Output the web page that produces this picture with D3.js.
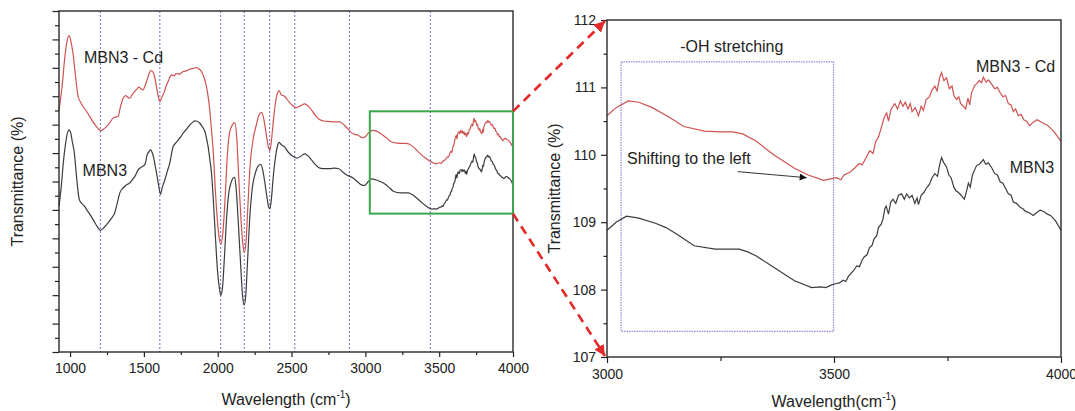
<!DOCTYPE html>
<html>
<head>
<meta charset="utf-8">
<script src="https://cdn.jsdelivr.net/npm/d3@7"></script>
<style>
  body { margin: 0; background: #fff; }
  svg { display: block; font-family: "Liberation Sans", Arial, sans-serif; }
</style>
</head>
<body>
<svg width="1075" height="411"></svg>
<script>
// FTIR spectra: [wavenumber, transmittance]
const cdSpectrum = [
  [925,111.5],[945,112.3],[965,113.4],[980,113.95],[993,114.13],[1005,113.95],[1020,113.5],[1035,112.8],
  [1054,112.0],[1070,111.8],[1088,111.64],[1110,111.48],[1133,111.29],[1155,111.1],[1179,110.93],[1195,110.83],
  [1208,110.79],[1225,110.84],[1247,110.93],[1270,111.08],[1291,111.23],[1310,111.27],[1325,111.29],[1340,111.6],
  [1359,111.93],[1377,112.02],[1390,111.97],[1404,111.93],[1420,112.05],[1438,112.17],[1452,112.25],[1467,112.32],
  [1480,112.26],[1495,112.22],[1508,112.38],[1518,112.52],[1532,112.75],[1547,112.9],[1562,112.85],[1575,112.62],
  [1585,112.34],[1598,111.98],[1608,111.81],[1620,111.95],[1635,112.11],[1650,112.35],[1664,112.52],[1687,112.75],
  [1705,112.72],[1720,112.8],[1740,112.78],[1766,112.87],[1790,112.9],[1811,112.95],[1835,112.98],[1856,113.01],
  [1875,112.95],[1890,112.87],[1908,112.65],[1924,112.34],[1936,111.95],[1946,111.52],[1958,110.8],[1969,110.11],
  [1985,108.6],[2000,107.5],[2012,106.95],[2022,106.8],[2035,107.2],[2050,108.4],[2065,109.9],[2080,110.7],
  [2100,111.0],[2116,111.07],[2128,110.6],[2140,109.4],[2155,107.9],[2170,106.8],[2180,106.5],[2192,106.9],
  [2205,108.2],[2220,109.6],[2240,110.5],[2262,111.0],[2280,111.35],[2297,111.43],[2310,111.25],[2325,110.8],
  [2338,110.35],[2353,110.09],[2365,110.5],[2380,111.3],[2395,111.9],[2408,112.15],[2416,112.2],[2430,112.05],
  [2455,111.99],[2480,111.82],[2511,111.66],[2534,111.6],[2560,111.66],[2590,111.73],[2612,111.66],[2635,111.52],
  [2660,111.34],[2692,111.17],[2725,111.12],[2760,111.11],[2795,111.1],[2827,111.1],[2860,110.97],[2882,110.85],
  [2905,110.72],[2930,110.66],[2951,110.63],[2970,110.56],[2986,110.54],
  [3000,110.58],[3020,110.7],[3047,110.8],[3070,110.78],[3100,110.7],[3139,110.55],[3169,110.42],[3215,110.35],
  [3250,110.34],[3276,110.34],[3299,110.31],[3329,110.2],[3367,110.0],[3413,109.8],[3443,109.7],[3477,109.62],
  [3505,109.66],[3515,109.63],[3522,109.7],[3535,109.74],[3545,109.8],[3556,109.87],[3562,109.85],[3570,109.95],
  [3579,110.06],[3586,110.02],[3592,110.2],[3598,110.26],[3604,110.4],[3611,110.56],[3616,110.62],[3620,110.5],
  [3626,110.68],[3634,110.76],[3640,110.68],[3646,110.8],[3652,110.72],[3657,110.78],[3663,110.68],[3668,110.76],
  [3672,110.64],[3679,110.7],[3686,110.58],[3692,110.72],[3697,110.66],[3703,110.82],[3710,110.86],[3716,110.96],
  [3722,111.02],[3727,110.95],[3733,111.15],[3737,111.22],[3742,111.1],[3748,111.14],[3754,110.98],[3760,111.02],
  [3764,110.88],[3770,110.82],[3775,110.86],[3779,110.76],[3785,110.72],[3790,110.68],[3795,110.84],[3799,110.74],
  [3803,110.92],[3809,111.02],[3815,111.06],[3820,111.1],[3825,111.07],[3829,111.15],[3835,111.08],[3840,111.11],
  [3848,111.04],[3854,110.98],[3860,111.0],[3866,110.92],[3872,110.86],[3878,110.88],[3884,110.76],[3890,110.74],
  [3895,110.64],[3900,110.68],[3906,110.58],[3912,110.6],[3918,110.52],[3924,110.5],[3931,110.43],[3938,110.48],
  [3947,110.52],[3958,110.48],[3970,110.44],[3985,110.34],[4000,110.2]
];

const mbn3Spectrum = [
  [925,108.14],[940,108.8],[955,109.7],[970,110.35],[982,110.7],[993,110.82],[1005,110.7],[1015,110.4],
  [1028,110.04],[1045,109.1],[1062,108.37],[1080,108.22],[1096,108.14],[1120,107.95],[1142,107.78],[1165,107.58],
  [1185,107.4],[1206,107.28],[1230,107.38],[1257,107.54],[1280,107.7],[1302,107.89],[1320,108.25],[1337,108.6],
  [1360,108.78],[1382,108.88],[1405,108.95],[1420,109.05],[1438,109.17],[1461,109.41],[1484,109.51],[1507,109.6],
  [1522,109.94],[1535,110.05],[1545,110.11],[1556,110.02],[1567,109.82],[1580,109.45],[1590,109.17],[1600,108.85],
  [1612,108.55],[1625,108.8],[1642,109.06],[1658,109.35],[1675,109.64],[1698,110.23],[1715,110.35],[1732,110.46],
  [1750,110.58],[1766,110.7],[1790,110.85],[1811,110.99],[1830,111.08],[1845,111.13],[1860,111.12],[1879,111.05],
  [1895,110.93],[1913,110.76],[1925,110.5],[1935,110.23],[1946,109.8],[1958,109.29],[1972,108.2],[1985,107.0],
  [1998,105.9],[2010,105.3],[2021,105.0],[2033,105.3],[2045,106.3],[2060,107.7],[2075,108.6],[2090,108.95],
  [2104,109.12],[2115,109.15],[2127,108.6],[2140,107.5],[2155,106.1],[2168,105.0],[2179,104.65],[2190,105.0],
  [2203,106.3],[2218,107.8],[2235,108.8],[2255,109.3],[2275,109.55],[2292,109.6],[2305,109.4],[2318,109.0],
  [2332,108.5],[2345,108.1],[2353,108.04],[2362,108.3],[2375,109.1],[2390,109.8],[2405,110.25],[2416,110.38],
  [2430,110.3],[2455,110.2],[2480,110.02],[2511,109.88],[2538,109.82],[2565,109.9],[2590,109.97],[2612,109.9],
  [2635,109.76],[2660,109.6],[2692,109.47],[2725,109.45],[2760,109.45],[2790,109.47],[2820,109.45],[2850,109.32],
  [2873,109.23],[2895,109.18],[2917,109.12],[2945,109.0],[2974,108.88],[2990,108.86],
  [3000,108.88],[3020,109.0],[3043,109.09],[3070,109.06],[3108,108.98],[3130,108.92],[3154,108.82],[3192,108.65],
  [3238,108.6],[3270,108.6],[3291,108.6],[3310,108.56],[3329,108.5],[3367,108.33],[3413,108.13],[3451,108.03],
  [3470,108.04],[3482,108.03],[3495,108.07],[3505,108.09],[3512,108.1],[3520,108.14],[3526,108.12],[3532,108.2],
  [3543,108.28],[3550,108.35],[3556,108.34],[3562,108.44],[3566,108.48],[3573,108.52],[3578,108.62],[3584,108.66],
  [3588,108.75],[3594,108.8],[3598,108.92],[3604,108.97],[3608,109.05],[3612,109.2],[3615,109.24],[3620,109.12],
  [3625,109.3],[3630,109.34],[3636,109.28],[3642,109.4],[3649,109.42],[3655,109.34],[3660,109.42],[3666,109.36],
  [3672,109.4],[3678,109.28],[3683,109.36],[3686,109.26],[3692,109.4],[3698,109.44],[3703,109.5],[3710,109.56],
  [3716,109.66],[3722,109.72],[3728,109.68],[3733,109.86],[3737,109.96],[3742,109.88],[3748,109.82],[3753,109.7],
  [3758,109.66],[3764,109.52],[3768,109.47],[3774,109.44],[3780,109.4],[3787,109.34],[3792,109.46],[3796,109.58],
  [3800,109.52],[3805,109.7],[3810,109.78],[3814,109.84],[3820,109.86],[3825,109.9],[3829,109.93],[3834,109.86],
  [3840,109.88],[3848,109.8],[3854,109.72],[3860,109.7],[3866,109.6],[3872,109.58],[3878,109.5],[3884,109.42],
  [3890,109.4],[3895,109.3],[3902,109.28],[3910,109.22],[3916,109.2],[3922,109.16],[3930,109.14],[3939,109.1],
  [3946,109.14],[3954,109.18],[3962,109.16],[3970,109.12],[3977,109.1],[3988,109.02],[4000,108.88]
];

// band positions marked with dotted lines
const peakLines = [1205, 1608, 2020, 2180, 2352, 2522, 2892, 3440];

const leftMajorTicks = [1000, 1500, 2000, 2500, 3000, 3500, 4000];
const leftMinorTicks = [1250, 1750, 2250, 2750, 3250, 3750];
const rightXMajor = [3000, 3500, 4000];
const rightXMinor = [3250, 3750];
const rightYMajor = [107, 108, 109, 110, 111, 112];
const rightYMinor = [107.5, 108.5, 109.5, 110.5, 111.5];

// zoomed region (green) and -OH band (blue), in data units [w0, w1, t0, t1]
const zoomRegion = [3030, 4000, 107.87, 111.47];
const ohRegion = [3031, 3499, 107.38, 111.38];

const red = "#cf5252", grey = "#3c3c3c";

const svg = d3.select("svg");

// ---------- left panel ----------
const xL = d3.scaleLinear().domain([925, 4000]).range([59, 513]);
const yL = d3.scaleLinear().domain([103, 115]).range([352, 11]);

const gL = svg.append("g");

gL.selectAll("line.peak")
  .data(peakLines)
  .enter().append("line")
  .attr("class", "peak")
  .attr("x1", d => xL(d)).attr("x2", d => xL(d))
  .attr("y1", yL(115)).attr("y2", yL(103))
  .style("stroke", "#6b6bd6")
  .style("stroke-width", 1)
  .style("stroke-dasharray", "2,2");

const lineL = d3.line().x(d => xL(d[0])).y(d => yL(d[1])).curve(d3.curveMonotoneX);

gL.append("path").datum(cdSpectrum).attr("d", lineL)
  .style("fill", "none").style("stroke", red).style("stroke-width", 1.2);
gL.append("path").datum(mbn3Spectrum).attr("d", lineL)
  .style("fill", "none").style("stroke", grey).style("stroke-width", 1.2);

// axes
const axL1 = gL.append("g").attr("transform", `translate(0,${yL(103)})`)
  .call(d3.axisBottom(xL).tickValues(leftMajorTicks).tickSize(5).tickPadding(6.5).tickFormat(d3.format("d")));
const axL2 = gL.append("g").attr("transform", `translate(0,${yL(103)})`)
  .call(d3.axisBottom(xL).tickValues(leftMinorTicks).tickSize(3).tickFormat(""));
const axL3 = gL.append("g").attr("transform", `translate(${xL(925)},0)`)
  .call(d3.axisLeft(yL).tickValues(d3.range(103, 115.1, 1)).tickSize(6.5).tickFormat(""));
const axL4 = gL.append("g").attr("transform", `translate(${xL(925)},0)`)
  .call(d3.axisLeft(yL).tickValues(d3.range(103.5, 115, 1)).tickSize(4).tickFormat(""));

[axL1, axL2, axL3, axL4].forEach(a => {
  a.select(".domain").remove();
  a.selectAll("line").style("stroke", "#222").style("stroke-width", 1.2);
  a.selectAll("text").style("font-size", "14px").style("fill", "#222").style("font-family", "inherit");
});

gL.append("rect")
  .attr("x", xL(925)).attr("y", yL(115))
  .attr("width", xL(4000) - xL(925)).attr("height", yL(103) - yL(115))
  .style("fill", "none").style("stroke", "#2a2a2a").style("stroke-width", 1.4);

// green zoom box
gL.append("rect")
  .attr("x", xL(zoomRegion[0])).attr("y", yL(zoomRegion[3]))
  .attr("width", xL(zoomRegion[1]) - xL(zoomRegion[0]))
  .attr("height", yL(zoomRegion[2]) - yL(zoomRegion[3]))
  .style("fill", "none").style("stroke", "#3aa54c").style("stroke-width", 2);

gL.append("text").attr("x", xL(1094)).attr("y", yL(113.17))
  .style("font-size", "16px").style("fill", "#222").text("MBN3 - Cd");
gL.append("text").attr("x", xL(1085)).attr("y", yL(109.19))
  .style("font-size", "16px").style("fill", "#222").text("MBN3");

const tL = gL.append("text").attr("x", (xL(925) + xL(4000)) / 2).attr("y", 405)
  .attr("text-anchor", "middle").style("font-size", "16px").style("fill", "#222");
tL.append("tspan").text("Wavelength (cm");
tL.append("tspan").attr("dy", -7).style("font-size", "10px").text("-1");
tL.append("tspan").attr("dy", 7).text(")");

gL.append("text")
  .attr("transform", `translate(23,${(yL(103) + yL(115)) / 2}) rotate(-90)`)
  .attr("text-anchor", "middle").style("font-size", "16px").style("fill", "#222")
  .text("Transmittance (%)");

// ---------- right panel ----------
const xR = d3.scaleLinear().domain([3000, 4000]).range([607, 1061]);
const yR = d3.scaleLinear().domain([107, 112]).range([357, 20]);

const gR = svg.append("g");

gR.append("rect")
  .attr("x", xR(ohRegion[0])).attr("y", yR(ohRegion[3]))
  .attr("width", xR(ohRegion[1]) - xR(ohRegion[0]))
  .attr("height", yR(ohRegion[2]) - yR(ohRegion[3]))
  .style("fill", "none").style("stroke", "#8c8ce0").style("stroke-width", 1.2)
  .style("stroke-dasharray", "1.5,1");

const lineR = d3.line().x(d => xR(d[0])).y(d => yR(d[1]));

gR.append("path").datum(cdSpectrum.filter(d => d[0] >= 3000)).attr("d", lineR)
  .style("fill", "none").style("stroke", red).style("stroke-width", 1.2);
gR.append("path").datum(mbn3Spectrum.filter(d => d[0] >= 3000)).attr("d", lineR)
  .style("fill", "none").style("stroke", grey).style("stroke-width", 1.2);

const axR1 = gR.append("g").attr("transform", `translate(0,${yR(107)})`)
  .call(d3.axisBottom(xR).tickValues(rightXMajor).tickSize(6).tickPadding(6).tickFormat(d3.format("d")));
const axR2 = gR.append("g").attr("transform", `translate(0,${yR(107)})`)
  .call(d3.axisBottom(xR).tickValues(rightXMinor).tickSize(4).tickFormat(""));
const axR3 = gR.append("g").attr("transform", `translate(${xR(3000)},0)`)
  .call(d3.axisLeft(yR).tickValues(rightYMajor).tickSize(6).tickPadding(5).tickFormat(d3.format("d")));
const axR4 = gR.append("g").attr("transform", `translate(${xR(3000)},0)`)
  .call(d3.axisLeft(yR).tickValues(rightYMinor).tickSize(3.5).tickFormat(""));

[axR1, axR2, axR3, axR4].forEach(a => {
  a.select(".domain").remove();
  a.selectAll("line").style("stroke", "#222").style("stroke-width", 1.2);
  a.selectAll("text").style("font-size", "14px").style("fill", "#222").style("font-family", "inherit");
});

gR.append("rect")
  .attr("x", xR(3000)).attr("y", yR(112))
  .attr("width", xR(4000) - xR(3000)).attr("height", yR(107) - yR(112))
  .style("fill", "none").style("stroke", "#2a2a2a").style("stroke-width", 1.4);

gR.append("text").attr("x", xR(3275)).attr("y", yR(111.53))
  .attr("text-anchor", "middle").style("font-size", "16px").style("fill", "#222").text("-OH stretching");
gR.append("text").attr("x", xR(3987)).attr("y", yR(111.23))
  .attr("text-anchor", "end").style("font-size", "16px").style("fill", "#222").text("MBN3 - Cd");
gR.append("text").attr("x", xR(3985)).attr("y", yR(109.73))
  .attr("text-anchor", "end").style("font-size", "16px").style("fill", "#222").text("MBN3");
gR.append("text").attr("x", xR(3044)).attr("y", yR(109.87))
  .style("font-size", "16px").style("fill", "#222").text("Shifting to the left");

const defs = svg.append("defs");
defs.append("marker").attr("id", "blackHead")
  .attr("viewBox", "0 0 10 10").attr("refX", 10).attr("refY", 5)
  .attr("markerWidth", 9).attr("markerHeight", 7).attr("markerUnits", "userSpaceOnUse")
  .attr("orient", "auto")
  .append("path").attr("d", "M0,0L10,5L0,10z").style("fill", "#111");
defs.append("marker").attr("id", "redHead")
  .attr("viewBox", "0 0 10 10").attr("refX", 10).attr("refY", 5)
  .attr("markerWidth", 11).attr("markerHeight", 11).attr("markerUnits", "userSpaceOnUse")
  .attr("orient", "auto")
  .append("path").attr("d", "M0,0L10,5L0,10z").style("fill", "#e32a2a");

gR.append("line")
  .attr("x1", xR(3288)).attr("y1", yR(109.75))
  .attr("x2", xR(3440)).attr("y2", yR(109.66))
  .style("stroke", "#333").style("stroke-width", 1)
  .attr("marker-end", "url(#blackHead)");

const tR = gR.append("text").attr("x", (xR(3000) + xR(4000)) / 2).attr("y", 407)
  .attr("text-anchor", "middle").style("font-size", "16px").style("fill", "#222");
tR.append("tspan").text("Wavelength(cm");
tR.append("tspan").attr("dy", -7).style("font-size", "10px").text("-1");
tR.append("tspan").attr("dy", 7).text(")");

gR.append("text")
  .attr("transform", `translate(560,${(yR(107) + yR(112)) / 2}) rotate(-90)`)
  .attr("text-anchor", "middle").style("font-size", "16px").style("fill", "#222")
  .text("Transmittance (%)");

// ---------- red dashed connectors ----------
const connectors = [
  [[xL(zoomRegion[1]), yL(zoomRegion[3])], [xR(3000) - 2, yR(112) + 1]],
  [[xL(zoomRegion[1]), yL(zoomRegion[2])], [xR(3000) - 2, yR(107) - 1]]
];
svg.selectAll("line.connector")
  .data(connectors)
  .enter().append("line")
  .attr("class", "connector")
  .attr("x1", d => d[0][0]).attr("y1", d => d[0][1])
  .attr("x2", d => d[1][0]).attr("y2", d => d[1][1])
  .style("stroke", "#e32a2a").style("stroke-width", 2.6)
  .style("stroke-dasharray", "9,6")
  .attr("marker-end", "url(#redHead)");
</script>
</body>
</html>
